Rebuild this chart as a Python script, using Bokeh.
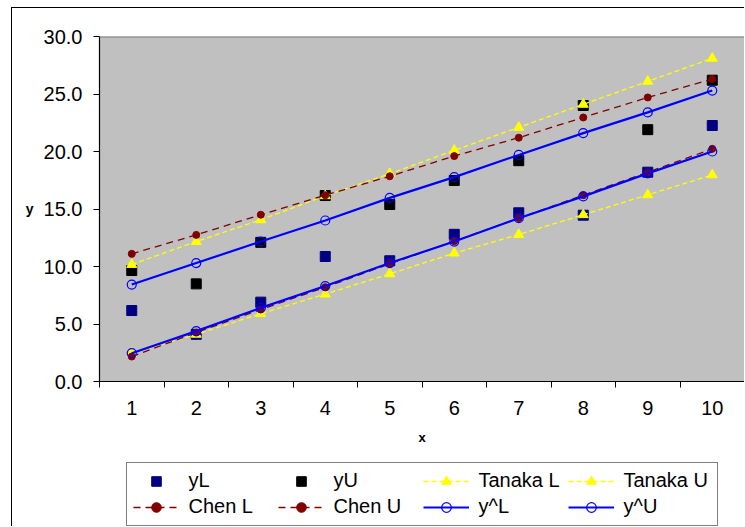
from bokeh.plotting import figure
from bokeh.layouts import column
from bokeh.models import (Range1d, FixedTicker, NumeralTickFormatter, Legend,
                          LegendItem, Span)
from bokeh.embed import file_html
from bokeh.resources import INLINE

x = [1, 2, 3, 4, 5, 6, 7, 8, 9, 10]
yL = [6.17, 4.1, 6.9, 10.87, 10.5, 12.8, 14.67, 14.46, 18.2, 22.26]
yU = [9.65, 8.49, 12.1, 16.17, 15.39, 17.48, 19.2, 24.0, 21.9, 26.2]
tanaka_L = [2.45, 4.1, 5.9, 7.6, 9.36, 11.16, 12.78, 14.5, 16.23, 17.97]
tanaka_U = [10.17, 12.17, 14.06, 16.15, 18.07, 20.1, 22.1, 24.1, 26.1, 28.1]
chen_L = [2.17, 4.26, 6.26, 8.2, 10.23, 12.2, 14.2, 16.2, 18.2, 20.23]
chen_U = [11.1, 12.75, 14.5, 16.2, 17.85, 19.6, 21.2, 22.96, 24.7, 26.3]
yhat_L = [2.46, 4.38, 6.4, 8.3, 10.3, 12.17, 14.2, 16.1, 18.1, 20.0]
yhat_U = [8.43, 10.3, 12.17, 14.0, 15.97, 17.77, 19.7, 21.6, 23.4, 25.3]
y_ticks = [0, 5, 10, 15, 20, 25, 30]
series_names = ["yL", "yU", "Tanaka L", "Tanaka U", "Chen L", "Chen U", "y^L", "y^U"]

FONT = "Liberation Sans"

# series styles: (kind, marker, marker size, colour, line dash)
styles = {
    "yL": ("marker", "square", 10, "#000080", None),
    "yU": ("marker", "square", 10, "black", None),
    "Tanaka L": ("dash", "triangle", 10, "#FFFF00", "5 3"),
    "Tanaka U": ("dash", "triangle", 10, "#FFFF00", "5 3"),
    "Chen L": ("dash", "circle", 7, "#800000", "7 5"),
    "Chen U": ("dash", "circle", 7, "#800000", "7 5"),
    "y^L": ("open", "circle", 9, "#0000FF", None),
    "y^U": ("open", "circle", 9, "#0000FF", None),
}
values = {"yL": yL, "yU": yU, "Tanaka L": tanaka_L, "Tanaka U": tanaka_U,
          "Chen L": chen_L, "Chen U": chen_U, "y^L": yhat_L, "y^U": yhat_U}


def draw(fig, name, xs, ys):
    kind, marker, size, color, dash = styles[name]
    rs = []
    if kind == "dash":
        rs.append(fig.line(xs, ys, line_color=color, line_width=1.3, line_dash=dash))
        rs.append(fig.scatter(xs, ys, marker=marker, size=size,
                              fill_color=color, line_color=color))
    elif kind == "open":
        rs.append(fig.line(xs, ys, line_color=color, line_width=2.2))
        rs.append(fig.scatter(xs, ys, marker=marker, size=size, fill_color=None,
                              line_color=color, line_width=1.2))
    else:
        rs.append(fig.scatter(xs, ys, marker=marker, size=size,
                              fill_color=color, line_color=color))
    return rs


p = figure(width=732, height=447, output_backend="svg", toolbar_location=None,
           x_range=Range1d(0.5, 10.5), y_range=Range1d(0, 30),
           min_border_left=87, min_border_top=28, min_border_right=0,
           min_border_bottom=74)
p.background_fill_color = "#C0C0C0"
p.border_fill_color = "white"
p.outline_line_color = None
p.xgrid.visible = False
p.ygrid.visible = False
p.add_layout(Span(location=30, dimension="width", line_color="#808080", line_width=2))

# y axis
ya = p.yaxis[0]
ya.ticker = FixedTicker(ticks=y_ticks)
ya.formatter = NumeralTickFormatter(format="0.0")
ya.major_tick_out = 6
ya.major_tick_in = 0
ya.minor_tick_line_color = None
ya.major_label_standoff = 11
ya.major_label_text_font = FONT
ya.major_label_text_font_size = "20px"
ya.major_label_text_color = "black"
ya.axis_line_color = "black"
ya.axis_line_width = 1.2
ya.axis_label = "y"
ya.axis_label_orientation = "horizontal"
ya.axis_label_text_font = FONT
ya.axis_label_text_font_style = "bold"
ya.axis_label_text_font_size = "14px"
ya.axis_label_text_color = "black"
ya.axis_label_standoff = 7

# x axis (category style: ticks between categories)
xa = p.xaxis[0]
xa.ticker = FixedTicker(ticks=x, minor_ticks=[v - 0.5 for v in x] + [10.5])
xa.major_tick_line_color = None
xa.major_tick_out = 6
xa.major_tick_in = 0
xa.minor_tick_out = 6
xa.minor_tick_in = 0
xa.minor_tick_line_color = "black"
xa.major_label_standoff = 13
xa.major_label_text_font = FONT
xa.major_label_text_font_size = "20px"
xa.major_label_text_color = "black"
xa.axis_line_color = "black"
xa.axis_line_width = 1.2
xa.axis_label = "x"
xa.axis_label_text_font = FONT
xa.axis_label_text_font_style = "bold"
xa.axis_label_text_font_size = "13px"
xa.axis_label_text_color = "black"
xa.axis_label_standoff = 12

for name in series_names:
    draw(p, name, x, values[name])

# legend strip below the chart (same series; data lies outside this strip's range)
p2 = figure(width=732, height=71, output_backend="svg", toolbar_location=None,
            x_range=Range1d(100, 101), y_range=Range1d(100, 101),
            x_axis_location=None, y_axis_location=None,
            min_border_left=87, min_border_right=0, min_border_top=0,
            min_border_bottom=0)
p2.outline_line_color = None
p2.background_fill_color = "white"
p2.border_fill_color = "white"
p2.xgrid.visible = False
p2.ygrid.visible = False

items = []
for name in series_names:
    rs = draw(p2, name, x, values[name])
    items.append(LegendItem(label=name, renderers=rs))

legend = Legend(items=items, orientation="horizontal", ncols=4,
                location=(26.5, 0.5), margin=0, padding=6, spacing=2,
                glyph_width=46, glyph_height=24, label_standoff=10,
                label_width=87, label_text_font=FONT,
                label_text_font_size="20px", label_text_color="black",
                border_line_color="black",
                border_line_width=1, background_fill_color="white",
                background_fill_alpha=1.0)
p2.add_layout(legend, "center")

layout = column(p, p2, spacing=0,
                styles={"border-left": "1.5px solid black",
                        "border-top": "1.5px solid black",
                        "margin-left": "11px", "margin-top": "7px"})

open("out.html", "w").write(file_html(layout, INLINE))
